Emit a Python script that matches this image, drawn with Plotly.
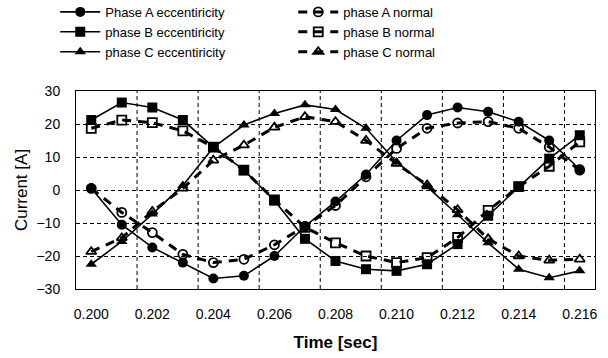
import plotly.graph_objects as go

time = [0.200, 0.201, 0.202, 0.203, 0.204, 0.205, 0.206, 0.207, 0.208,
        0.209, 0.210, 0.211, 0.212, 0.213, 0.214, 0.215, 0.216]

a_ecc = [0.5, -10.5, -17.4, -22, -26.8, -26, -20, -11, -3.5, 4.7, 15, 22.7, 25, 23.7, 20.7, 15, 6.3]
a_norm = [0.5, -6.8, -12.9, -19.5, -22, -21, -16.6, -11, -4.7, 4, 12.6, 18.7, 20.3, 20.7, 18.7, 13, 6]
b_ecc = [21.2, 26.5, 25, 21.2, 13, 6, -3.2, -14.8, -21.5, -24, -24.5, -22.5, -16.4, -7.8, 1, 9.5, 16.6]
b_norm = [18.7, 21.2, 20.4, 17.9, 13, 6, -3, -11.3, -16, -20, -22, -20.5, -14.4, -6.2, 1, 7.2, 14.6]
c_ecc = [-22.5, -15.6, -7.3, 1.4, 12.9, 19.7, 23.2, 25.8, 24.4, 18.7, 8.5, 1, -7.5, -16, -24, -26.6, -24.5]
c_norm = [-18.7, -14.5, -6.5, 0.5, 9, 13.6, 19, 22.2, 20.7, 15, 8, 1.5, -6, -14.8, -20, -21.3, -21]

tick_vals = [0.200, 0.202, 0.204, 0.206, 0.208, 0.210, 0.212, 0.214, 0.216]
tick_text = ["0.200", "0.202", "0.204", "0.206", "0.208", "0.210", "0.212", "0.214", "0.216"]
grid_x = [0.2015, 0.2035, 0.2055, 0.2075, 0.2095, 0.2115, 0.2135, 0.2155]

series = [
    ("Phase A eccentiricity", a_ecc, "circle", "solid"),
    ("phase A normal", a_norm, "circle-open", "dash"),
    ("phase B eccentiricity", b_ecc, "square", "solid"),
    ("phase B normal", b_norm, "square-open", "dash"),
    ("phase C eccentiricity", c_ecc, "triangle-up", "solid"),
    ("phase C normal", c_norm, "triangle-up-open", "dash"),
]

fig = go.Figure()
for name, vals, sym, dash in series:
    solid = dash == "solid"
    fig.add_trace(go.Scatter(
        x=time, y=vals, name=name, mode="lines+markers",
        line=dict(color="black", width=1.6 if solid else 3, dash="solid" if solid else "9px,7px"),
        marker=dict(symbol=sym, size=10 if solid else 9, color="black",
                    line=dict(color="black", width=0 if solid else 1.8)),
    ))

for gx in grid_x:
    fig.add_shape(type="line", xref="x", yref="paper", x0=gx, x1=gx, y0=0, y1=1,
                  line=dict(color="black", width=1, dash="4px,3px"), layer="below")

font_family = "Liberation Sans, Arial, sans-serif"
fig.update_layout(
    width=608, height=358,
    margin=dict(l=76, r=13, t=91, b=69, autoexpand=False),
    paper_bgcolor="white", plot_bgcolor="white",
    font=dict(family=font_family, color="black", size=13),
    legend=dict(orientation="h", x=-0.04, xanchor="left", y=1.475, yanchor="top",
                entrywidth=183, font=dict(size=13), itemwidth=40,
                tracegroupgap=0, bgcolor="rgba(0,0,0,0)"),
    xaxis=dict(range=[0.1995, 0.2165], tickvals=tick_vals, ticktext=tick_text,
               showgrid=False, zeroline=False, showline=True, mirror=True,
               linecolor="black", linewidth=1, ticks="", ticklabelstandoff=12,
               tickfont=dict(size=14),
               title=dict(text="<b>Time [sec]</b>", font=dict(size=17), standoff=15)),
    yaxis=dict(range=[-30, 30], tickvals=[-30, -20, -10, 0, 10, 20, 30],
               showgrid=True, gridcolor="black", gridwidth=1, griddash="4px,3px",
               zeroline=False, showline=True, mirror=True,
               linecolor="black", linewidth=1, ticks="", ticklabelstandoff=12,
               tickfont=dict(size=14),
               title=dict(text="Current [A]", font=dict(size=17), standoff=4)),
)

fig.write_html("out.html", config={"displayModeBar": False},
               post_script="document.body.style.margin='0px';")
